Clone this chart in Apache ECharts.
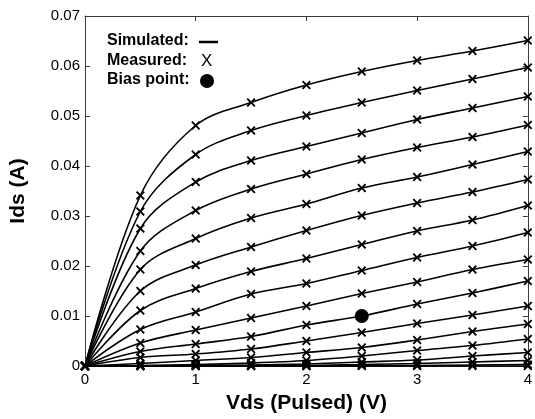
<!DOCTYPE html>
<html>
<head>
<meta charset="utf-8">
<script src="https://cdn.jsdelivr.net/npm/echarts@6/dist/echarts.min.js"></script>
<style>
  html, body { margin: 0; padding: 0; background: #fff; }
  #chart { width: 535px; height: 419px; }
</style>
</head>
<body>
<div id="chart"></div>
<script>
// Drain voltage sweep (V)
const vds = [0, 0.5, 1, 1.5, 2, 2.5, 3, 3.5, 4];

// Drain current (A), one array per gate-voltage step, highest first
const ids01 = [0, 0.0341, 0.0481, 0.0527, 0.0562, 0.0589, 0.0611, 0.0630, 0.0651];
const ids02 = [0, 0.0309, 0.0423, 0.0471, 0.0501, 0.0527, 0.0551, 0.0574, 0.0597];
const ids03 = [0, 0.0275, 0.0368, 0.0411, 0.0439, 0.0466, 0.0493, 0.0516, 0.0539];
const ids04 = [0, 0.0230, 0.0311, 0.0354, 0.0384, 0.0413, 0.0437, 0.0458, 0.0482];
const ids05 = [0, 0.0193, 0.0255, 0.0296, 0.0324, 0.0356, 0.0378, 0.0403, 0.0429];
const ids06 = [0, 0.0150, 0.0202, 0.0238, 0.0271, 0.0301, 0.0326, 0.0348, 0.0373];
const ids07 = [0, 0.0111, 0.0155, 0.0189, 0.0215, 0.0243, 0.0270, 0.0292, 0.0321];
const ids08 = [0, 0.0073, 0.0108, 0.0144, 0.0165, 0.0191, 0.0217, 0.0240, 0.0267];
const ids09 = [0, 0.0046, 0.0072, 0.0096, 0.0120, 0.0145, 0.0168, 0.0193, 0.0213];
const ids10 = [0, 0.0029, 0.0044, 0.0059, 0.0082, 0.0100, 0.0124, 0.0146, 0.0170];
const ids11 = [0, 0.0017, 0.0024, 0.0034, 0.0050, 0.0067, 0.0085, 0.0102, 0.0120];
const ids12 = [0, 0.0005, 0.0011, 0.0017, 0.0027, 0.0037, 0.0052, 0.0069, 0.0084];
const ids13 = [0, 0.0001, 0.0003, 0.0006, 0.0011, 0.0020, 0.0031, 0.0041, 0.0054];
const ids14 = [0, 0, 0.0001, 0.0002, 0.0004, 0.0008, 0.0012, 0.0020, 0.0027];
const ids15 = [0, 0, 0, 0.0001, 0.0001, 0.0003, 0.0005, 0.0008, 0.0011];
const ids16 = [0, 0, 0, 0, 0, 0.0001, 0.0001, 0.0002, 0.0003];
const ids17 = [0, 0, 0, 0, 0, 0, 0, 0, 0];

// Operating point (Vds, Ids)
const biasVds = 2.5;
const biasIds = 0.0100;

// Tick labels
const xTickLabels = ['0', '1', '2', '3', '4'];
const yTickLabels = ['0', '0.01', '0.02', '0.03', '0.04', '0.05', '0.06', '0.07'];

const curves = [ids01, ids02, ids03, ids04, ids05, ids06, ids07, ids08, ids09,
                ids10, ids11, ids12, ids13, ids14, ids15, ids16, ids17];

const FONT = '"Liberation Sans", Arial, Helvetica, sans-serif';
const AXIS_COLOR = '#3a3a3a';
// filled "x" glyph used for measured points
const CROSS = 'path://M0,1.5L1.5,0L5,3.5L8.5,0L10,1.5L6.5,5L10,8.5L8.5,10L5,6.5L1.5,10L0,8.5L3.5,5Z';

const series = curves.map(ids => ({
  type: 'line',
  data: vds.map((v, i) => [v, ids[i]]),
  smooth: 0.35,
  clip: false,
  symbol: CROSS,
  symbolSize: 9,
  showSymbol: true,
  showAllSymbol: true,
  lineStyle: { color: '#000', width: 1.6 },
  itemStyle: { color: '#000' },
  emphasis: { disabled: true },
  animation: false,
  z: 3
}));

series.push({
  type: 'scatter',
  data: [[biasVds, biasIds]],
  symbol: 'circle',
  symbolSize: 14,
  itemStyle: { color: '#000', opacity: 1 },
  emphasis: { disabled: true },
  animation: false,
  z: 10,
  zlevel: 1
});

const tickCommon = { inside: true, length: 5, lineStyle: { color: AXIS_COLOR, width: 1 } };
const lineCommon = { show: true, onZero: false, lineStyle: { color: AXIS_COLOR, width: 1 } };

const option = {
  backgroundColor: '#fff',
  animation: false,
  grid: { left: 81, right: 6, top: 16, bottom: 52, containLabel: false },
  xAxis: [
    {
      type: 'value', min: 0, max: 4, interval: 1, position: 'bottom',
      axisLine: lineCommon, axisTick: tickCommon, splitLine: { show: false },
      axisLabel: {
        margin: 6, color: '#000', fontFamily: FONT, fontSize: 15,
        formatter: v => xTickLabels[Math.round(v)]
      },
      name: 'Vds (Pulsed) (V)', nameLocation: 'middle', nameGap: 27,
      nameTextStyle: { color: '#000', fontFamily: FONT, fontSize: 21, fontWeight: 'bold' }
    },
    {
      type: 'value', min: 0, max: 4, interval: 1, position: 'top',
      axisLine: lineCommon, axisTick: tickCommon, splitLine: { show: false },
      axisLabel: { show: false }
    }
  ],
  yAxis: [
    {
      type: 'value', min: 0, max: 0.07, interval: 0.01, position: 'left',
      axisLine: lineCommon, axisTick: tickCommon, splitLine: { show: false },
      axisLabel: {
        margin: 5, color: '#000', fontFamily: FONT, fontSize: 15,
        formatter: v => yTickLabels[Math.round(v * 100)]
      },
      name: 'Ids (A)', nameLocation: 'middle', nameGap: 56, nameRotate: 90,
      nameTextStyle: { color: '#000', fontFamily: FONT, fontSize: 21, fontWeight: 'bold' }
    },
    {
      type: 'value', min: 0, max: 0.07, interval: 0.01, position: 'right',
      axisLine: lineCommon, axisTick: tickCommon, splitLine: { show: false },
      axisLabel: { show: false }
    }
  ],
  graphic: [
    { type: 'text', left: 107, top: 33, style: { text: 'Simulated:', font: 'bold 16px ' + FONT, fill: '#000' } },
    { type: 'line', shape: { x1: 199, y1: 42, x2: 218, y2: 42 }, style: { stroke: '#000', lineWidth: 2.5 } },
    { type: 'text', left: 107, top: 53, style: { text: 'Measured:', font: 'bold 16px ' + FONT, fill: '#000' } },
    { type: 'text', left: 201, top: 53, style: { text: 'X', font: '17px ' + FONT, fill: '#000' } },
    { type: 'text', left: 107, top: 72, style: { text: 'Bias point:', font: 'bold 16px ' + FONT, fill: '#000' } },
    { type: 'circle', shape: { cx: 207, cy: 81, r: 7 }, style: { fill: '#000' } }
  ],
  series: series
};

const chart = echarts.init(document.getElementById('chart'), null, { renderer: 'canvas' });
chart.setOption(option);
</script>
</body>
</html>
